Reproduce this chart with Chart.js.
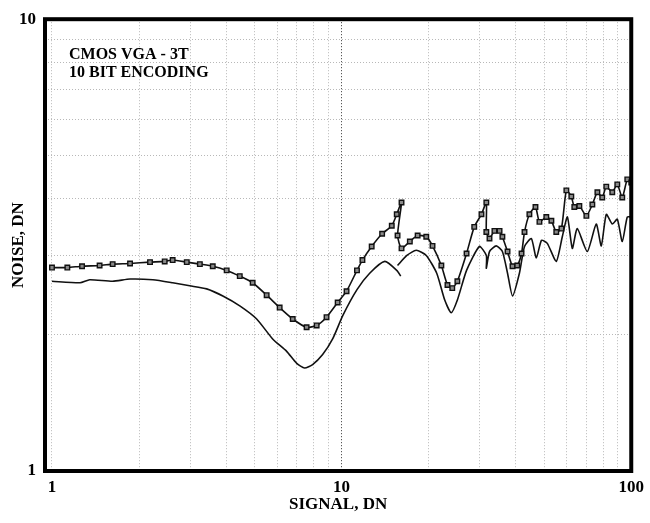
<!DOCTYPE html>
<html>
<head>
<meta charset="utf-8">
<script src="https://cdn.jsdelivr.net/npm/chart.js@4"></script>
<style>
html, body { margin:0; padding:0; background:#fff; }
#wrap { width:650px; height:523px; }
</style>
</head>
<body>
<div id="wrap"><canvas id="noiseChart" width="650" height="523"></canvas></div>
<script>
// signal (DN) and noise (DN)
const signalUpper = [1.0,1.13,1.27,1.46,1.62,1.86,2.18,2.45,2.61,2.92,3.24,3.59,4.01,4.45,4.93,5.51,6.11,6.78,7.57,8.2,8.87,9.69,
  10.4,11.3,11.8,12.7,13.8,14.9,15.5,16.1,15.6,16.1,17.2,18.3,19.6,20.6,22.1,23.2,24.1,25.1,27.0,28.7,30.4,31.6,31.6,32.4,33.7,35.1,35.9,37.4,38.9,40.4,41.8,42.8,44.5,46.7,48.2,50.9,53.0,55.1,57.4,59.7,62.1,63.6,66.2,70.0,73.4,76.4,79.4,82.0,86.0,89.5,93.1,96.9,100];
const noiseUpper = [2.82,2.82,2.84,2.85,2.87,2.88,2.90,2.91,2.93,2.90,2.87,2.84,2.78,2.70,2.61,2.45,2.30,2.17,2.08,2.10,2.19,2.36,
  2.50,2.78,2.93,3.14,3.35,3.49,3.70,3.93,3.32,3.11,3.22,3.32,3.30,3.15,2.85,2.58,2.54,2.63,3.03,3.47,3.70,3.93,3.38,3.27,3.40,3.40,3.30,3.06,2.84,2.85,3.03,3.38,3.70,3.84,3.56,3.65,3.58,3.38,3.44,4.18,4.05,3.84,3.86,3.67,3.89,4.14,4.03,4.26,4.14,4.31,4.03,4.42,4.35];

const signalLower = [1.0,1.25,1.35,1.62,1.86,2.23,2.61,2.99,3.42,3.89,4.45,5.09,5.78,6.46,7.0,7.45,7.94,8.6,9.31,10.1,11.3,12.5,14.1,15.5,16.0,
  null,15.6,16.8,18.1,19.6,21.3,22.7,23.9,25.1,27.0,29.9,31.6,31.6,32.4,34.2,35.9,37.4,38.9,41.1,42.8,45.2,47.0,49.0,51.3,55.1,57.8,60.2,62.6,65.1,70.5,75.7,78.8,82.0,86.0,89.5,93.1,96.9,100];
const noiseLower = [2.63,2.61,2.65,2.63,2.66,2.65,2.61,2.57,2.53,2.44,2.32,2.17,1.96,1.84,1.73,1.69,1.72,1.81,1.96,2.21,2.52,2.74,2.91,2.78,2.70,
  null,2.85,3.0,3.08,3.0,2.74,2.39,2.24,2.39,2.78,3.14,3.0,2.81,3.06,3.15,3.06,2.74,2.44,2.74,3.14,3.27,2.96,3.24,3.19,2.91,3.30,3.65,3.11,3.44,3.06,3.52,3.15,3.70,3.52,3.61,3.22,3.65,3.65];

const xGridTicks = [1,2,3,4,5,6,7,8,9,10,20,30,40,50,60,70,80,90,100];
const xTickLabels = [1,10,100];
const yGridTicks = [1,2,3,4,5,6,7,8,9,10];
const yTickLabels = [1,10];
const legendLines = ["CMOS VGA - 3T","10 BIT ENCODING"];

function pts(xs, ys) {
  return xs.map((x, i) => ({x: x === null ? NaN : x, y: ys[i]}));
}

const serifBold = {family: "'Liberation Serif','DejaVu Serif',serif", weight: 'bold', size: 17};

// thick frame + text block
const framePlugin = {
  id: 'frame',
  afterDraw(chart) {
    const a = chart.chartArea, c = chart.ctx;
    c.save();
    c.strokeStyle = '#000';
    c.lineWidth = 4;
    c.strokeRect(a.left, a.top, a.right - a.left, a.bottom - a.top);
    c.fillStyle = '#000';
    c.font = "bold 16px 'Liberation Serif', serif";
    c.textBaseline = 'alphabetic';
    c.fillText(legendLines[0], a.left + 24, a.top + 40);
    c.fillText(legendLines[1], a.left + 24, a.top + 58);
    c.restore();
  }
};

new Chart(document.getElementById('noiseChart'), {
  type: 'scatter',
  data: {
    datasets: [{
      label: 'upper',
      data: pts(signalUpper, noiseUpper),
      showLine: true,
      borderColor: '#111',
      borderWidth: 1.6,
      tension: 0.2,
      pointStyle: 'rect',
      pointRadius: 3.2,
      pointBackgroundColor: '#8a8a8a',
      pointBorderColor: '#111',
      pointBorderWidth: 1.4
    }, {
      label: 'lower',
      data: pts(signalLower, noiseLower),
      showLine: true,
      spanGaps: false,
      borderColor: '#111',
      borderWidth: 1.6,
      tension: 0.2,
      pointRadius: 0
    }]
  },
  options: {
    responsive: false,
    animation: false,
    layout: {padding: {top: 12, right: 18, left: 0, bottom: 0}},
    plugins: {legend: {display: false}, tooltip: {enabled: false}},
    scales: {
      x: {
        type: 'logarithmic',
        min: 0.946,
        max: 100,
        afterBuildTicks: s => { s.ticks = xGridTicks.map(v => ({value: v})); },
        afterFit: s => { s.height = 52; },
        ticks: {
          autoSkip: false, maxRotation: 0, padding: 6,
          color: '#000', font: {family: serifBold.family, weight: 'bold', size: 17},
          callback: v => xTickLabels.includes(v) ? String(v) : ''
        },
        grid: {
          drawTicks: false,
          color: c => c.tick && c.tick.value === 10 ? '#333' : '#b8b8b8',
          lineWidth: 1
        },
        border: {display: false, dash: [1, 2]},
        title: {display: true, text: 'SIGNAL, DN', color: '#000', font: serifBold, padding: {top: 0, bottom: 8}}
      },
      y: {
        type: 'logarithmic',
        min: 1,
        max: 10,
        afterBuildTicks: s => { s.ticks = yGridTicks.map(v => ({value: v})); },
        afterFit: s => { s.width = 45; },
        ticks: {
          autoSkip: false, padding: 9,
          color: '#000', font: {family: serifBold.family, weight: 'bold', size: 17},
          callback: v => yTickLabels.includes(v) ? String(v) : ''
        },
        grid: {drawTicks: false, color: '#b8b8b8', lineWidth: 1},
        border: {display: false, dash: [1, 2]},
        title: {display: true, text: 'NOISE, DN', color: '#000', font: serifBold, padding: {top: 8, bottom: 0}}
      }
    }
  },
  plugins: [framePlugin]
});
</script>
</body>
</html>
